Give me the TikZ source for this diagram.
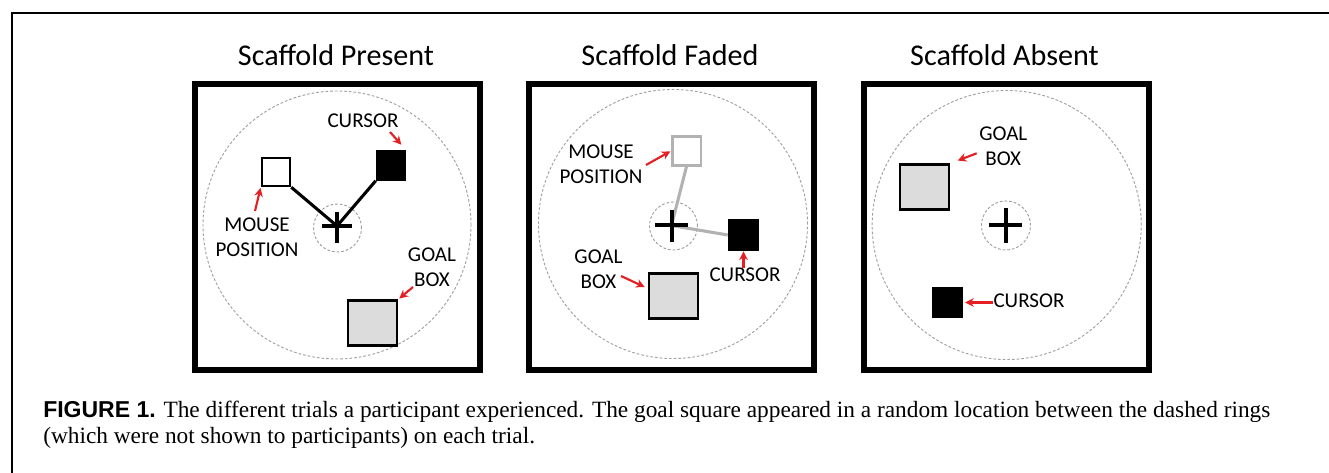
\documentclass[tikz,border=0pt]{standalone}
\usepackage{fontspec}
\setmainfont{Liberation Serif}
\newfontfamily\calibri{Carlito}
\newfontfamily\helv{Liberation Sans}
\usetikzlibrary{arrows.meta,calc}
\definecolor{arrred}{RGB}{228,32,36}
\definecolor{ringgray}{RGB}{160,160,160}
\definecolor{goalfill}{RGB}{220,220,220}
\definecolor{fadegray}{RGB}{178,178,178}
\begin{document}
\begin{tikzpicture}[x=0.75pt,y=-0.75pt,
  panel/.style={draw=black,line width=4.5pt,rectangle,minimum width=213.75pt,minimum height=214.5pt,inner sep=0pt},
  ring/.style={draw=ringgray,line width=0.7pt,dash pattern=on 2pt off 1.5pt},
  sq/.style={rectangle,draw=black,line width=1.9pt,inner sep=0pt},
  goal/.style={sq,fill=goalfill,minimum width=36.75pt,minimum height=33.5pt},
  link/.style={draw=black,line width=2.3pt},
  fadelink/.style={draw=fadegray,line width=2.3pt},
  crossline/.style={draw=black,line width=3pt},
  lbl/.style={inner sep=0pt,align=center,font=\calibri\fontsize{15.8pt}{18.75pt}\selectfont},
  title/.style={inner sep=0pt,anchor=base,font=\calibri\fontsize{22.6pt}{26pt}\selectfont},
  redarr/.style={draw=arrred,line width=1.6pt,-{Stealth[length=6.5pt,width=6.5pt]}},
  captxt/.style={inner sep=0pt,anchor=base west,font=\fontsize{17.5pt}{20pt}\selectfont}
]
\useasboundingbox[fill=white] (0,0) rectangle (1329,473);
\draw[line width=1.9pt] (1329,13) -- (12,13) -- (12,473);

% ---------- Panel 1: Scaffold Present ----------
\node[panel] (p1) at (337.5,227) {};
\node[title] (t1) at (336,65.7) {Scaffold Present};
\draw[ring] (337,225) circle[radius=100.5pt];
\draw[ring] (337.5,228) circle[radius=18pt];
\coordinate (x1) at (337,226);
\node[sq,fill=white,minimum size=21pt] (m1) at (276,172) {};
\node[sq,fill=black,minimum size=21pt] (c1) at (391,165.5) {};
\node[goal] (g1) at (372.5,323) {};
\draw[link] (m1.south east) -- (x1) -- (c1.south west);
\draw[crossline] (322,226) -- (352,226) (337,212) -- (337,243);
\node[lbl] (lc1) at (363,121) {CURSOR};
\coordinate (ac1) at (390,132);
\draw[redarr,shorten >=5.5pt] (ac1) -- (c1.north east);
\node[lbl] (lm1) at (257,237.5) {MOUSE\\POSITION};
\coordinate (am1) at (255,211);
\draw[redarr,shorten >=0.5pt] (am1) -- (m1.south west);
\node[lbl] (lg1) at (432,267.5) {GOAL\\BOX};
\coordinate (ag1) at (413,287);
\draw[redarr,shorten >=1pt] (ag1) -- (g1.north east);

% ---------- Panel 2: Scaffold Faded ----------
\node[panel] (p2) at (671.5,227) {};
\node[title] (t2) at (670,65.7) {Scaffold Faded};
\draw[ring] (673,224) circle[radius=100.9pt];
\draw[ring] (673.5,226) circle[radius=18pt];
\coordinate (x2) at (671.5,225.5);
\node[sq,draw=fadegray,fill=white,minimum size=21.4pt] (m2) at (686.5,151) {};
\node[sq,fill=black,minimum size=21.75pt] (c2) at (743.5,235) {};
\node[goal] (g2) at (673.5,296) {};
\draw[fadelink] (m2.south) -- (x2) -- (c2.west);
\draw[crossline] (655,225.5) -- (688,225.5) (671.5,210) -- (671.5,242);
\node[lbl] (lm2) at (601,164) {MOUSE\\POSITION};
\coordinate (am2) at (646,165);
\draw[redarr,shorten >=0.5pt] (am2) -- (m2.west);
\node[lbl] (lg2) at (598.5,269) {GOAL\\BOX};
\coordinate (ag2) at (621,276);
\draw[redarr,shorten >=2.5pt] (ag2) -- ($(g2.north west)!0.34!(g2.south west)$);
\node[lbl] (lc2) at (745,275) {CURSOR};
\coordinate (ac2) at (743.5,268);
\draw[redarr,shorten >=0.5pt] (ac2) -- (c2.south);

% ---------- Panel 3: Scaffold Absent ----------
\node[panel] (p3) at (1006.5,227) {};
\node[title] (t3) at (1004.5,65.7) {Scaffold Absent};
\draw[ring] (1006.7,225) circle[radius=100.9pt];
\draw[ring] (1006,225.5) circle[radius=18.4pt];
\coordinate (x3) at (1005.5,225.5);
\draw[crossline] (989,225.5) -- (1022,225.5) (1005.5,208) -- (1005.5,243);
\node[goal] (g3) at (924.5,187) {};
\node[sq,fill=black,minimum size=21.75pt] (c3) at (947.7,302.5) {};
\node[lbl] (lg3) at (1003.3,145.8) {GOAL\\BOX};
\coordinate (ag3) at (976.7,153.3);
\draw[redarr,shorten >=6pt] (ag3) -- (g3.north east);
\node[lbl] (lc3) at (1029,301) {CURSOR};
\coordinate (ac3) at (993,302.5);
\draw[redarr,shorten >=1.2pt] (ac3) -- (c3.east);

% ---------- Caption ----------
\node[captxt] (cap1) at (43,418) {{\helv\bfseries\fontsize{17.25pt}{20pt}\selectfont FIGURE 1.} The different trials a participant experienced. The goal square appeared in a random location between the dashed rings};
\node[captxt] (cap2) at (43,444) {(which were not shown to participants) on each trial.};
\end{tikzpicture}
\end{document}
